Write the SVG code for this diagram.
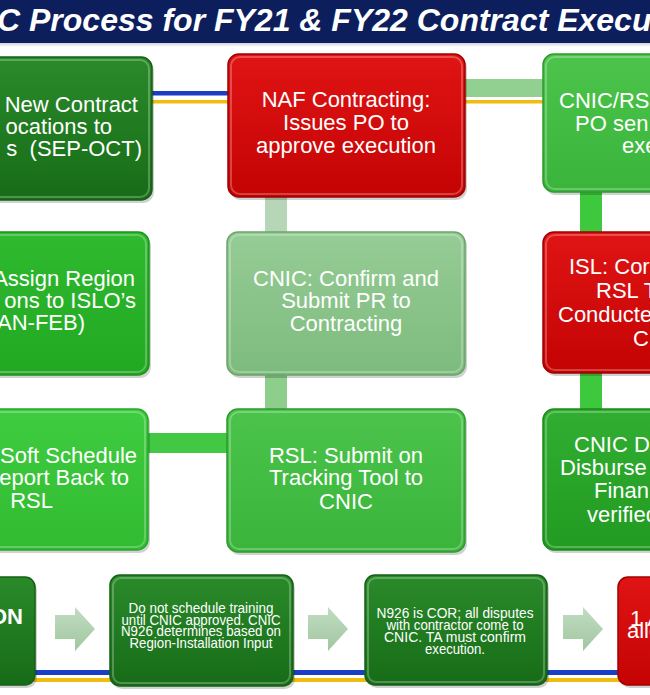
<svg xmlns="http://www.w3.org/2000/svg" width="650" height="695" viewBox="0 0 650 695">
<defs>
<linearGradient id="gDk" x1="0" y1="0" x2="0" y2="1"><stop offset="0" stop-color="#2a8a2a"/><stop offset="1" stop-color="#176c17"/></linearGradient>
<linearGradient id="gRd" x1="0" y1="0" x2="0" y2="1"><stop offset="0" stop-color="#e01414"/><stop offset="1" stop-color="#c40303"/></linearGradient>
<linearGradient id="gB1" x1="0" y1="0" x2="0" y2="1"><stop offset="0" stop-color="#2fba2f"/><stop offset="1" stop-color="#22a822"/></linearGradient>
<linearGradient id="gB2" x1="0" y1="0" x2="0" y2="1"><stop offset="0" stop-color="#40cc40"/><stop offset="1" stop-color="#30bb30"/></linearGradient>
<linearGradient id="gB3" x1="0" y1="0" x2="0" y2="1"><stop offset="0" stop-color="#4cc44c"/><stop offset="1" stop-color="#3ab43a"/></linearGradient>
<linearGradient id="gB4" x1="0" y1="0" x2="0" y2="1"><stop offset="0" stop-color="#31ae31"/><stop offset="1" stop-color="#219b21"/></linearGradient>
<linearGradient id="gLg" x1="0" y1="0" x2="0" y2="1"><stop offset="0" stop-color="#96cc96"/><stop offset="1" stop-color="#7dbb7d"/></linearGradient>
<linearGradient id="gAr" x1="0" y1="0" x2="0" y2="1"><stop offset="0" stop-color="#c2dcc2"/><stop offset="1" stop-color="#a0c6a0"/></linearGradient>
<linearGradient id="gTl" x1="0" y1="0" x2="0" y2="1"><stop offset="0" stop-color="#cfd3dc"/><stop offset="1" stop-color="#ffffff"/></linearGradient>
</defs>
<style>
.t{font-family:"Liberation Sans",Arial,sans-serif;fill:#ffffff;font-size:22px}
.c{text-anchor:middle}
.e{text-anchor:end}
.s{font-size:14.5px}
.m{font-size:15px}
.box{stroke-width:1.5}
.hl{fill:none;stroke:#ffffff;stroke-opacity:0.25;stroke-width:2}
.sh{fill:#000000;fill-opacity:0.18}
</style>
<rect x="0" y="0" width="650" height="695" fill="#ffffff"/>
<g id="title">
<rect x="0" y="0" width="650" height="43" fill="#0c1e5c"/>
<rect x="0" y="43" width="650" height="4" fill="url(#gTl)"/>
<text x="-3" y="31" font-family="Liberation Sans,Arial,sans-serif" font-size="32" font-weight="bold" font-style="italic" fill="#ffffff">C Process for FY21 &amp; FY22 Contract Execu</text>
</g>
<g id="connectors">
<rect x="140" y="91" width="100" height="4.5" fill="#1b3fc4"/>
<rect x="140" y="100" width="410" height="3.5" fill="#f0bc10"/>
<rect x="455" y="79" width="98" height="18" fill="#92d092"/>
<rect x="265" y="190" width="22" height="50" fill="#b7d6b7"/>
<rect x="265" y="365" width="22" height="52" fill="#8dce8d"/>
<rect x="580" y="185" width="22" height="55" fill="#3ec83e"/>
<rect x="580" y="365" width="22" height="52" fill="#3ec83e"/>
<rect x="140" y="433" width="95" height="20" fill="#42c842"/>
<rect x="0" y="670" width="650" height="5" fill="#1b3fc4"/>
<rect x="0" y="678" width="650" height="4" fill="#f0bc10"/>
<path d="M55,615 H75 V607 L95,629 L75,651 V639 H55 Z" fill="url(#gAr)"/>
<path d="M308,615 H328 V607 L348,629 L328,651 V639 H308 Z" fill="url(#gAr)"/>
<path d="M563,615 H583 V607 L603,629 L583,651 V639 H563 Z" fill="url(#gAr)"/>
</g>
<g id="nodeA">
<rect class="sh" x="-18" y="60" width="172" height="143" rx="11"/>
<rect class="box" x="-20" y="57" width="172" height="143" rx="11" fill="url(#gDk)" stroke="#146014"/>
<rect class="hl" x="-17" y="60" width="166" height="137" rx="9"/>
<text class="t e" x="138" y="112">New Contract</text>
<text class="t e" x="112" y="134">ocations to</text>
<text class="t e" x="142" y="156" xml:space="preserve">s  (SEP-OCT)</text>
</g>
<g id="nodeB">
<rect class="sh" x="230" y="57" width="237" height="143" rx="11"/>
<rect class="box" x="228" y="54" width="237" height="143" rx="11" fill="url(#gRd)" stroke="#a00000"/>
<rect class="hl" x="231" y="57" width="231" height="137" rx="9"/>
<text class="t c" x="346" y="107">NAF Contracting:</text>
<text class="t c" x="346" y="130">Issues PO to</text>
<text class="t c" x="346" y="153">approve execution</text>
</g>
<g id="nodeC">
<rect class="sh" x="545" y="57" width="150" height="138" rx="11"/>
<rect class="box" x="543" y="54" width="150" height="138" rx="11" fill="url(#gB3)" stroke="#2e9a2e"/>
<rect class="hl" x="546" y="57" width="144" height="132" rx="9"/>
<text class="t" x="559" y="108">CNIC/RS</text>
<text class="t" x="575" y="131">PO sen</text>
<text class="t" x="622" y="153">exe</text>
</g>
<g id="nodeD">
<rect class="sh" x="-18" y="235" width="169" height="143" rx="11"/>
<rect class="box" x="-20" y="232" width="169" height="143" rx="11" fill="url(#gB1)" stroke="#1c931c"/>
<rect class="hl" x="-17" y="235" width="163" height="137" rx="9"/>
<text class="t e" x="135" y="286">Assign Region</text>
<text class="t e" x="136" y="308">ons to ISLO’s</text>
<text class="t e" x="85" y="330">AN-FEB)</text>
</g>
<g id="nodeE">
<rect class="sh" x="229" y="235" width="238" height="143" rx="11"/>
<rect class="box" x="227" y="232" width="238" height="143" rx="11" fill="url(#gLg)" stroke="#6aa56a"/>
<rect class="hl" x="230" y="235" width="232" height="137" rx="9"/>
<text class="t c" x="346" y="286">CNIC: Confirm and</text>
<text class="t c" x="346" y="308">Submit PR to</text>
<text class="t c" x="346" y="331">Contracting</text>
</g>
<g id="nodeF">
<rect class="sh" x="545" y="235" width="150" height="141" rx="11"/>
<rect class="box" x="543" y="232" width="150" height="141" rx="11" fill="url(#gRd)" stroke="#a00000"/>
<rect class="hl" x="546" y="235" width="144" height="135" rx="9"/>
<text class="t" x="569" y="274">ISL: Cor</text>
<text class="t" x="596" y="298">RSL T</text>
<text class="t" x="558" y="322">Conducte</text>
<text class="t" x="633" y="346">C</text>
</g>
<g id="nodeG">
<rect class="sh" x="-18" y="412" width="168" height="141" rx="11"/>
<rect class="box" x="-20" y="409" width="168" height="141" rx="11" fill="url(#gB2)" stroke="#28a828"/>
<rect class="hl" x="-17" y="412" width="162" height="135" rx="9"/>
<text class="t e" x="137" y="463">Soft Schedule</text>
<text class="t e" x="129" y="485">eport Back to</text>
<text class="t e" x="53" y="508">RSL</text>
</g>
<g id="nodeH">
<rect class="sh" x="229" y="412" width="238" height="143" rx="11"/>
<rect class="box" x="227" y="409" width="238" height="143" rx="11" fill="url(#gB3)" stroke="#2e9a2e"/>
<rect class="hl" x="230" y="412" width="232" height="137" rx="9"/>
<text class="t c" x="346" y="463">RSL: Submit on</text>
<text class="t c" x="346" y="485">Tracking Tool to</text>
<text class="t c" x="346" y="509">CNIC</text>
</g>
<g id="nodeI">
<rect class="sh" x="545" y="412" width="150" height="141" rx="11"/>
<rect class="box" x="543" y="409" width="150" height="141" rx="11" fill="url(#gB4)" stroke="#1a8a1a"/>
<rect class="hl" x="546" y="412" width="144" height="135" rx="9"/>
<text class="t" x="574" y="452">CNIC D</text>
<text class="t" x="560" y="475">Disburse</text>
<text class="t" x="594" y="498">Finan</text>
<text class="t" x="587" y="522">verified</text>
</g>
<g id="nodeJ">
<rect class="sh" x="-18" y="580" width="55" height="108" rx="10"/>
<rect class="box" x="-20" y="577" width="55" height="108" rx="10" fill="url(#gDk)" stroke="#146014"/>
<text class="t e" x="23" y="624" font-weight="bold" font-size="24">ON</text>
</g>
<g id="nodeK">
<rect class="sh" x="112" y="578" width="183" height="111" rx="10"/>
<rect class="box" x="110" y="575" width="183" height="111" rx="10" fill="url(#gDk)" stroke="#146014"/>
<rect class="hl" x="113" y="578" width="177" height="105" rx="8"/>
<text class="t c s" x="201" y="613" textLength="145" lengthAdjust="spacingAndGlyphs">Do not schedule training</text>
<text class="t c s" x="201" y="624.5" textLength="159" lengthAdjust="spacingAndGlyphs">until CNIC approved. CNIC</text>
<text class="t c s" x="201" y="636" textLength="160" lengthAdjust="spacingAndGlyphs">N926 determines based on</text>
<text class="t c s" x="201" y="647.5" textLength="143" lengthAdjust="spacingAndGlyphs">Region-Installation Input</text>
</g>
<g id="nodeL">
<rect class="sh" x="367" y="578" width="182" height="110" rx="10"/>
<rect class="box" x="365" y="575" width="182" height="110" rx="10" fill="url(#gDk)" stroke="#146014"/>
<rect class="hl" x="368" y="578" width="176" height="104" rx="8"/>
<text class="t c m" x="455" y="618" textLength="157" lengthAdjust="spacingAndGlyphs">N926 is COR; all disputes</text>
<text class="t c m" x="455" y="630" textLength="137" lengthAdjust="spacingAndGlyphs">with contractor come to</text>
<text class="t c m" x="455" y="642" textLength="142" lengthAdjust="spacingAndGlyphs">CNIC. TA must confirm</text>
<text class="t c m" x="455" y="654" textLength="60" lengthAdjust="spacingAndGlyphs">execution.</text>
</g>
<g id="nodeM">
<rect class="sh" x="620" y="580" width="60" height="108" rx="10"/>
<rect class="box" x="618" y="577" width="60" height="108" rx="10" fill="url(#gRd)" stroke="#a00000"/>
<text class="t" x="630" y="626" font-size="14">1 A</text>
<text class="t" x="627" y="638" font-size="14">allo</text>
</g>
</svg>
